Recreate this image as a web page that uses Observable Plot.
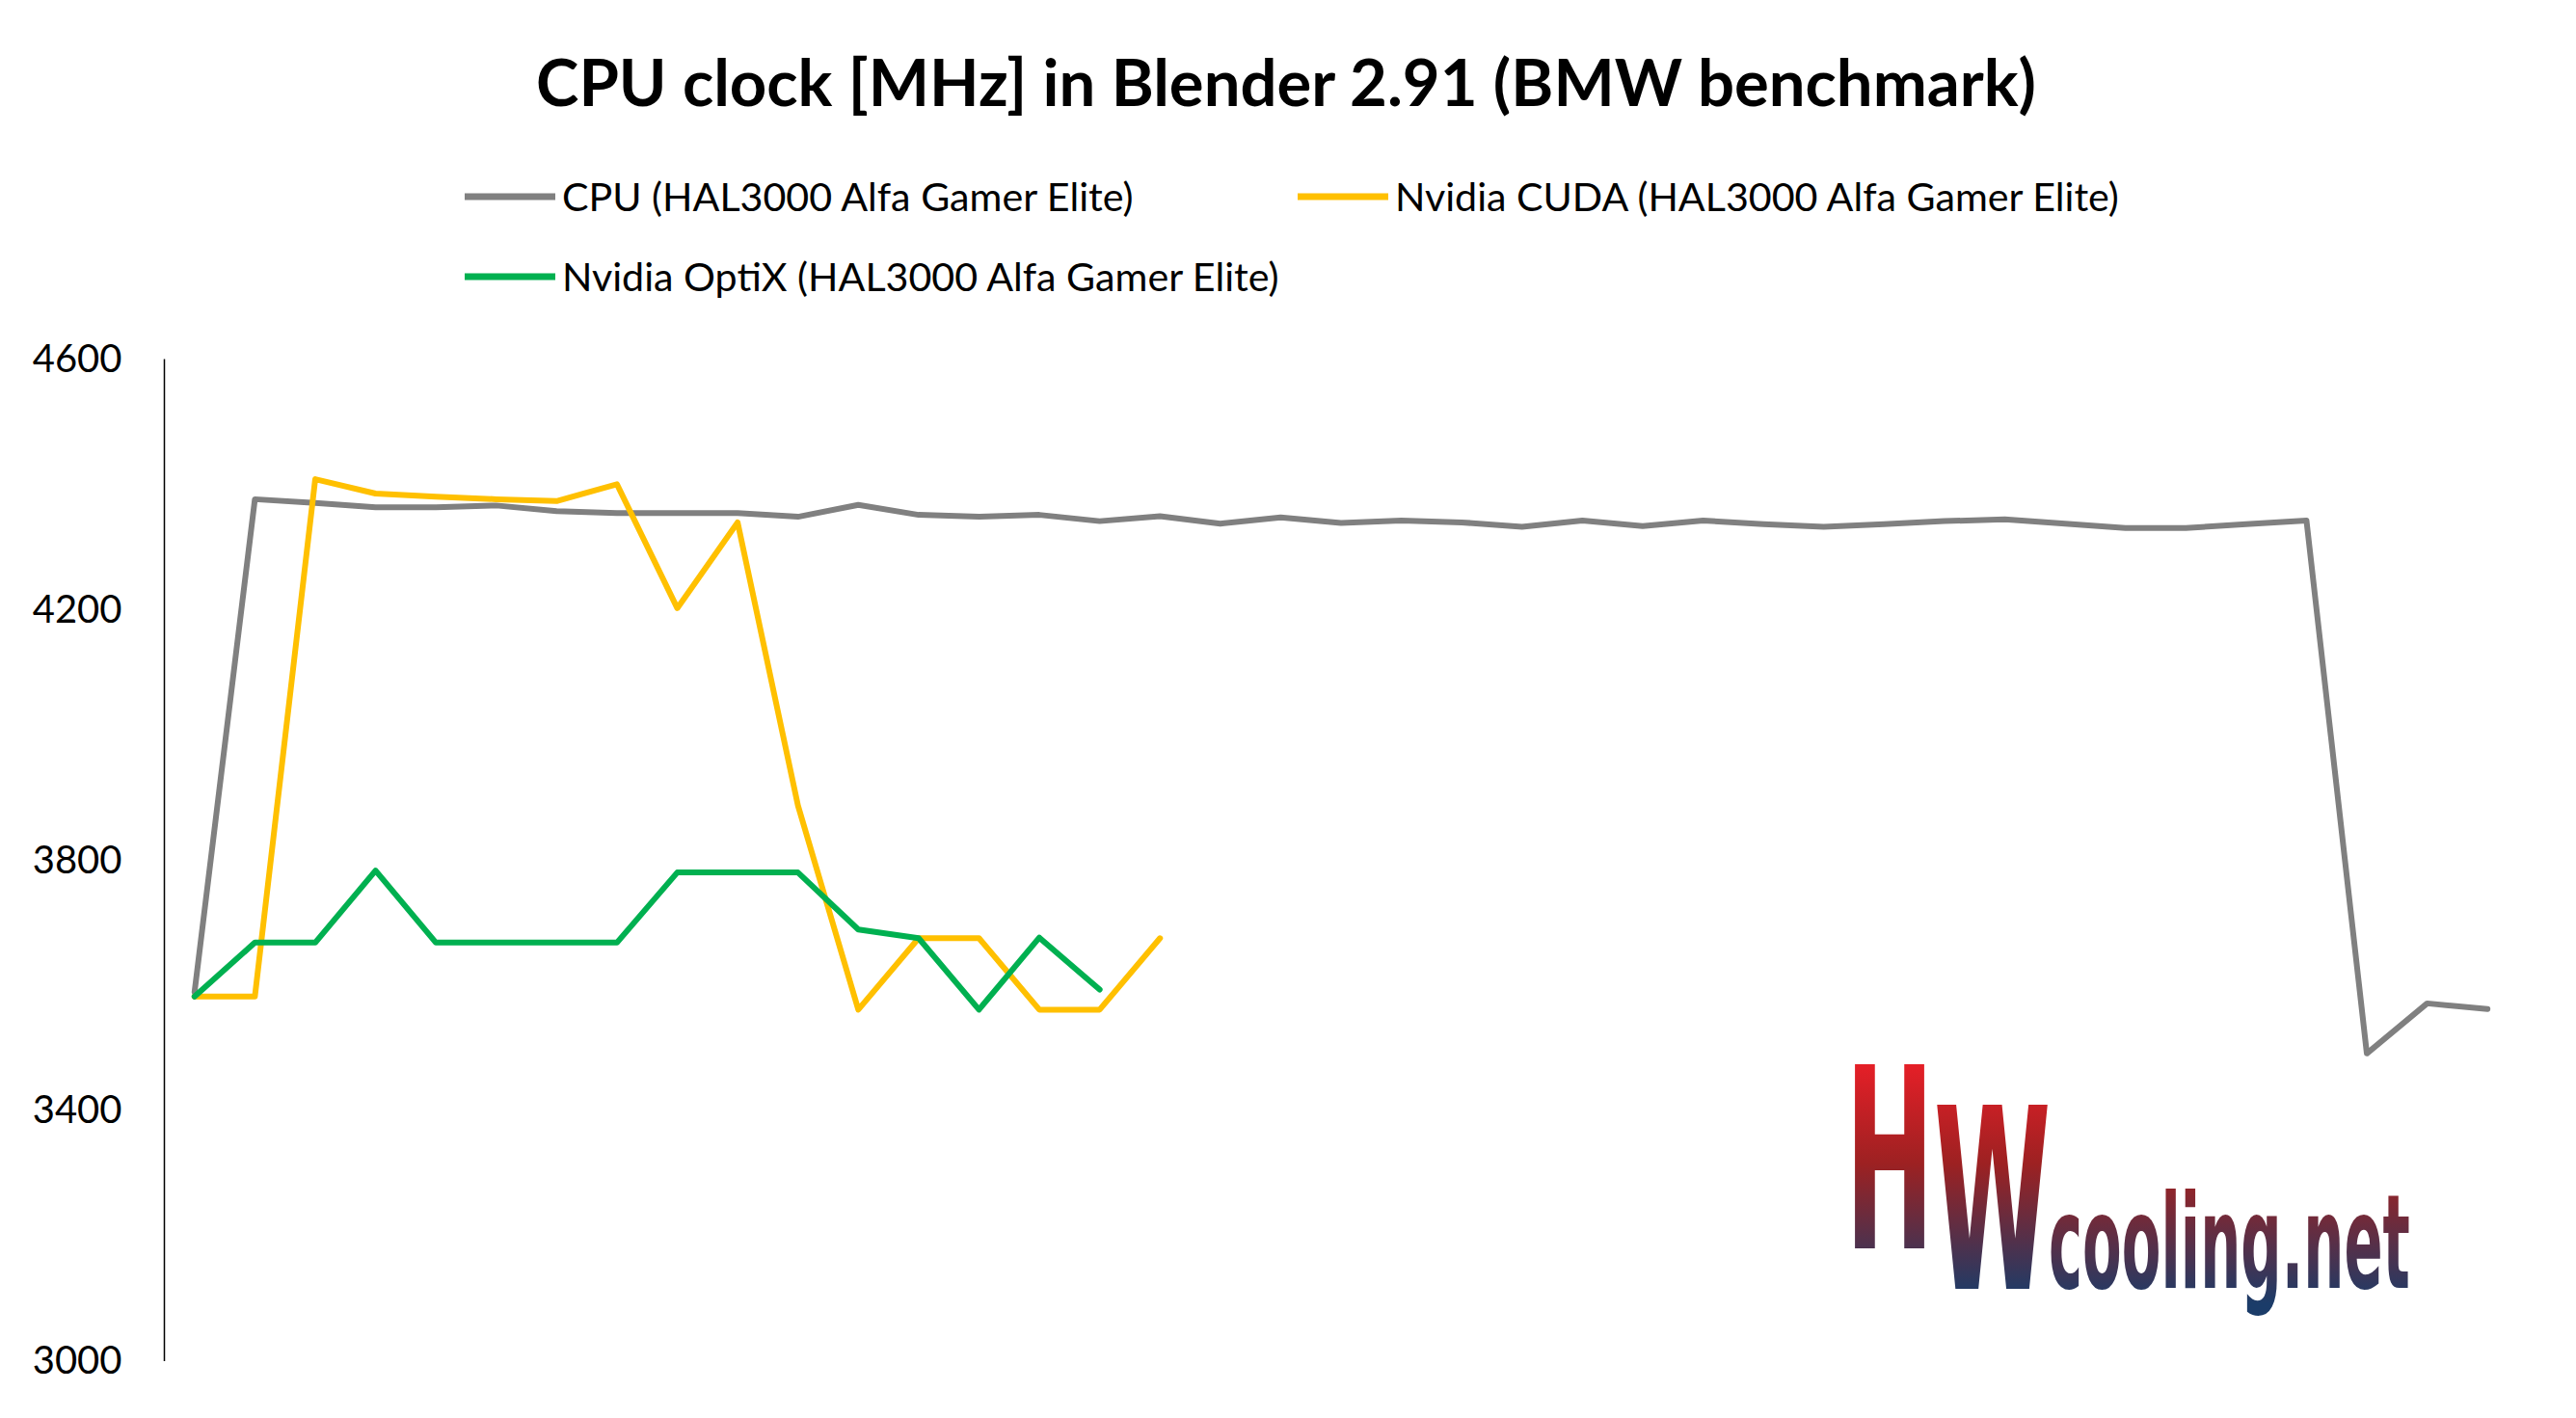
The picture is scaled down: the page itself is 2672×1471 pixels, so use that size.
<!DOCTYPE html>
<html>
<head>
<meta charset="utf-8">
<script src="https://cdn.jsdelivr.net/npm/d3@7"></script>
<script src="https://cdn.jsdelivr.net/npm/@observablehq/plot@0.6"></script>
<style>
  html, body { margin: 0; padding: 0; background: #fff; }
  #wrap { position: relative; width: 2672px; height: 1471px; overflow: hidden; font-family: Lato, "Open Sans", sans-serif; }
  #header, #logo { display: block; }
  #logo { position: absolute; left: 0; top: 0; pointer-events: none; }
  #chart svg { display: block; }
</style>
</head>
<body>
<div id="wrap">
  <svg id="header" width="2672" height="330"></svg>
  <div id="chart"></div>
  <svg id="logo" width="2672" height="1471">
    <defs>
      <linearGradient id="gH" x1="0" y1="0" x2="0" y2="1">
        <stop offset="0.15" stop-color="#e51f27"/>
        <stop offset="0.45" stop-color="#9c2122"/>
        <stop offset="0.85" stop-color="#1b3c69"/>
      </linearGradient>
      <linearGradient id="gC" x1="0" y1="0" x2="0" y2="1">
        <stop offset="0" stop-color="#a5201e"/>
        <stop offset="0.9" stop-color="#1b3c69"/>
      </linearGradient>
    </defs>
  </svg>
</div>
<script>
// ---- data ----
const sampleIndex = [0,1,2,3,4,5,6,7,8,9,10,11,12,13,14,15,16,17,18,19,20,21,22,23,24,25,26,27,28,29,30,31,32,33,34,35,36,37,38];
const seriesNames = [
  "CPU (HAL3000 Alfa Gamer Elite)",
  "Nvidia CUDA (HAL3000 Alfa Gamer Elite)",
  "Nvidia OptiX (HAL3000 Alfa Gamer Elite)"
];
const seriesColors = ["#808080", "#FFC000", "#00B050"];
const cpuMHz = [3590, 4377, 4371, 4364, 4364, 4367, 4358, 4355, 4355, 4355, 4349, 4368, 4352, 4349, 4352, 4342, 4350, 4338, 4348, 4339, 4343, 4340, 4333, 4343, 4334, 4343, 4337, 4333, 4337, 4342, 4345, 4338, 4331, 4331, 4337, 4343, 3492, 3572, 3563];
const cudaMHz = [3583, 3583, 4409, 4386, 4381, 4377, 4374, 4401, 4203, 4340, 3888, 3562, 3676, 3676, 3562, 3562, 3676];
const optixMHz = [3583, 3669, 3669, 3784, 3669, 3669, 3669, 3669, 3781, 3781, 3781, 3690, 3676, 3562, 3677, 3594];
const yTicks = [3000, 3400, 3800, 4200, 4600];
const yDomain = [3000, 4600];
const titleText = "CPU clock [MHz] in Blender 2.91 (BMW benchmark)";

// ---- build table ----
const allSeries = [cpuMHz, cudaMHz, optixMHz];
const rows = [];
allSeries.forEach((vals, s) => vals.forEach((v, i) => rows.push({series: seriesNames[s], i: sampleIndex[i], mhz: v})));
const xDomain = [sampleIndex[0] - 0.5, sampleIndex[sampleIndex.length - 1] + 0.5];

// ---- header (title + legend) ----
const ns = "http://www.w3.org/2000/svg";
function el(parent, tag, attrs, text) {
  const e = document.createElementNS(ns, tag);
  for (const k in attrs) e.setAttribute(k, attrs[k]);
  if (text != null) e.textContent = text;
  parent.appendChild(e);
  return e;
}
const header = document.getElementById("header");
el(header, "text", {x: 1334, y: 110, "text-anchor": "middle", "font-family": "Lato, 'Open Sans', sans-serif", "font-weight": 700, "font-size": 67, fill: "#000"}, titleText);
const legendPos = [[482, 204], [1346, 204], [482, 287]];
seriesNames.forEach((name, s) => {
  const [lx, ly] = legendPos[s];
  el(header, "line", {x1: lx, x2: lx + 94, y1: ly, y2: ly, stroke: seriesColors[s], "stroke-width": 7});
  el(header, "text", {x: lx + 101, y: ly + 14.5, "font-family": "Lato, 'Open Sans', sans-serif", "font-size": 41.2, fill: "#000"}, name);
});

// ---- chart ----
const chart = Plot.plot({
  width: 2672,
  height: 1141,
  marginTop: 42.5,
  marginBottom: 59,
  marginLeft: 170,
  marginRight: 61,
  style: {fontFamily: "Lato, 'Open Sans', sans-serif", fontSize: "40px", color: "#000", background: "transparent"},
  x: {domain: xDomain, axis: null},
  y: {domain: yDomain, ticks: yTicks, tickFormat: d => String(d)},
  color: {domain: seriesNames, range: seriesColors},
  marks: [
    Plot.axisY(yTicks, {tickSize: 0, tickPadding: 44, label: null, fontSize: 40, fill: "#000", tickFormat: d => String(d)}),
    Plot.ruleX([xDomain[0]], {y1: yDomain[0], y2: yDomain[1], stroke: "#000", strokeWidth: 1.5}),
    Plot.line(rows, {x: "i", y: "mhz", z: "series", stroke: "series", strokeWidth: 6, strokeLinejoin: "round", strokeLinecap: "round"})
  ]
});
document.getElementById("chart").appendChild(chart);

// ---- watermark logo (text scaled to fit its box) ----
const logo = document.getElementById("logo");
const logoFont = "'DejaVu Sans','Liberation Sans',sans-serif";
{
  const g = el(logo, "g", {});
  const t = el(g, "text", {x: 0, y: 0, "font-family": logoFont, "font-weight": 700, "font-size": 262, fill: "url(#gH)"});
  const h = el(t, "tspan", {}, "H");
  const hLen = h.getComputedTextLength();
  const sx = 92 / hLen;
  el(t, "tspan", {dy: 42}, "W");
  g.setAttribute("transform", `translate(1914,1295) scale(${sx},1)`);
}
{
  const g = el(logo, "g", {});
  const t = el(g, "text", {x: 0, y: 0, "font-family": logoFont, "font-weight": 700, "font-size": 136, fill: "url(#gC)"}, "cooling.net");
  const len = t.getComputedTextLength();
  g.setAttribute("transform", `translate(2125,1336) scale(${375 / len},1)`);
}
</script>
</body>
</html>
